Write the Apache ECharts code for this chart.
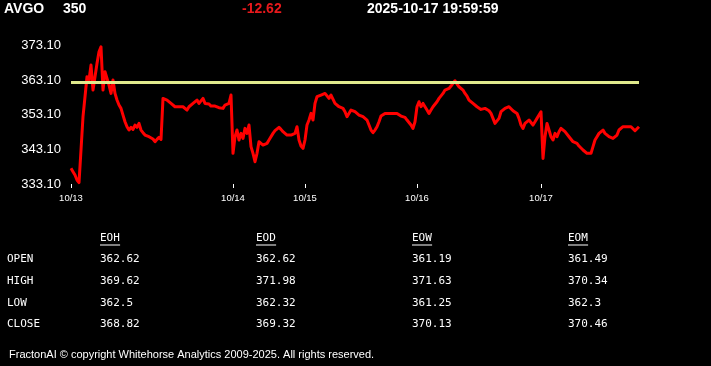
<!DOCTYPE html>
<html>
<head>
<meta charset="utf-8">
<script src="https://cdn.jsdelivr.net/npm/echarts@6/dist/echarts.min.js"></script>
<style>
html,body{margin:0;padding:0;background:#000;}
#chart{width:711px;height:366px;}
</style>
</head>
<body>
<div id="chart"></div>
<script>
// ---- header ----
const symbol = 'AVGO';
const lastPrice = '350';
const change = '-12.62';
const timestamp = '2025-10-17 19:59:59';

// ---- axis ----
const days = ['10/13', '10/14', '10/15', '10/16', '10/17'];
const yTicks = [333.1, 343.1, 353.1, 363.1, 373.1];
const levelValue = 362.62;

// ---- price series, one array per day ----
const day1 = [337.63,336.66,335.70,334.26,333.49,342.93,352.56,358.34,364.12,363.16,367.49,360.27,364.12,367.97,371.35,372.79,360.27,365.57,363.64,361.71,359.30,363.16,359.30,357.38,355.93,354.97,353.04,351.12,349.67,348.71,349.48,348.90,350.15,349.48,350.63,348.71,347.94,347.26,347.74,346.78,346.30,346.11,345.33,346.01,346.59,346.01,357.86,357.86,357.38,357.18,356.41,356.22,355.45,354.97,355.45,355.64,355.45,354.97,354.49,355.45,355.93,356.41,356.90,357.38,356.41,356.90,357.86,356.41,355.93,356.22,355.64,355.45,355.64,355.45,355.16,355.45,354.97,355.93,355.45,356.41,358.82];
const day2 = [341.96,346.78,348.71,345.82,347.74,346.30,349.19,347.74,350.15,343.89,341.96,339.55,341.96,345.33,345.82,344.37,343.89,344.85,345.82,346.30,347.74,348.51,348.90,349.48,348.90,348.23,348.71,347.26,347.74,347.26,347.55,347.74,349.67,345.82,344.08,343.41];
const day3 = [345.82,350.15,351.60,353.52,351.60,356.41,358.34,358.34,358.82,359.11,359.30,359.79,357.86,358.82,358.34,356.41,355.93,355.45,355.45,354.97,354.01,352.56,353.04,354.49,354.97,354.01,353.52,353.04,353.04,352.56,352.08,351.60,350.15,348.71,347.94,348.71,349.67,351.12,352.75,353.04,353.52,353.72,353.52,353.04,353.52,353.33,353.52,353.04,352.75,352.56,352.37,351.60,351.12,350.15,349.19,351.12];
const day4 = [355.45,356.90,355.45,356.41,356.41,354.49,353.52,354.49,355.45,355.93,356.90,357.86,358.34,359.30,360.27,360.46,360.75,361.42,362.20,362.97,362.01,361.23,360.75,360.27,359.30,358.53,357.38,356.90,356.41,355.93,355.45,354.97,354.68,354.97,354.97,354.97,354.29,353.52,352.08,350.63,350.15,352.08,354.01,354.49,354.97,354.49,355.45,354.97,354.29,354.01,353.52,352.08,350.15,349.19,350.63,351.12,351.60,351.12,350.15,351.12,352.08,353.04];
const day5 = [354.01,340.50,346.78,350.63,348.71,346.78,345.82,347.74,346.78,348.23,349.19,348.71,348.23,347.74,346.78,346.30,345.33,345.82,344.85,344.08,343.70,342.93,342.44,341.96,341.48,341.96,343.89,345.82,346.78,347.74,348.23,348.71,347.74,347.26,346.78,346.30,346.30,346.78,347.26,348.71,349.19,349.67,350.15,349.67,349.86,349.67,349.19,348.51,348.71,349.67];

// ---- table ----
const rowLabels = ['OPEN', 'HIGH', 'LOW', 'CLOSE'];
const colHeaders = ['EOH', 'EOD', 'EOW', 'EOM'];
const eoh = ['362.62', '369.62', '362.5', '368.82'];
const eod = ['362.62', '371.98', '362.32', '369.32'];
const eow = ['361.19', '371.63', '361.25', '370.13'];
const eom = ['361.49', '370.34', '362.3', '370.46'];
const footer = 'FractonAI \u00a9 copyright Whitehorse Analytics 2009-2025. All rights reserved.';

// ---- build category axis ----
const dayData = [day1, day2, day3, day4, day5];
const categories = [];
const values = [];
const dayStarts = [];
dayData.forEach((arr, d) => {
  dayStarts.push(categories.length);
  arr.forEach((v, i) => {
    categories.push(days[d] + '|' + i);
    values.push(v);
  });
});
const isStart = (idx) => dayStarts.indexOf(idx) >= 0;

// ---- graphics ----
const graphics = [];
const hdrFont = 'bold 14px "Liberation Sans", Arial, sans-serif';
graphics.push({type:'text', left:4, top:2, style:{text:symbol, font:hdrFont, fill:'#fff'}});
graphics.push({type:'text', left:63, top:2, style:{text:lastPrice, font:hdrFont, fill:'#fff'}});
graphics.push({type:'text', left:242, top:2, style:{text:change, font:hdrFont, fill:'#e8191c'}});
graphics.push({type:'text', left:367, top:2, style:{text:timestamp, font:hdrFont, fill:'#fff'}});

const monoFont = '11px "DejaVu Sans Mono", monospace';
const colX = [100, 256, 412, 568];
const rowY = [259.5, 281, 302.7, 324.3];
const headerY = 238.5;
const cols = [eoh, eod, eow, eom];
colHeaders.forEach((h, c) => {
  graphics.push({type:'text', x:colX[c], y:headerY, style:{text:h, font:monoFont, fill:'#fff', verticalAlign:'middle'}});
  graphics.push({type:'rect', shape:{x:colX[c], y:headerY + 6, width:h.length * 6.7, height:1}, style:{fill:'#fff'}});
  cols[c].forEach((v, r) => {
    graphics.push({type:'text', x:colX[c], y:rowY[r], style:{text:v, font:monoFont, fill:'#fff', verticalAlign:'middle'}});
  });
});
rowLabels.forEach((l, r) => {
  graphics.push({type:'text', x:7, y:rowY[r], style:{text:l, font:monoFont, fill:'#fff', verticalAlign:'middle'}});
});
graphics.push({type:'text', x:9, y:355, style:{text:footer, font:'11px "Liberation Sans", Arial, sans-serif', fill:'#fff', verticalAlign:'middle'}});

const chart = echarts.init(document.getElementById('chart'), null, {renderer:'canvas'});
chart.setOption({
  backgroundColor:'#000',
  animation:false,
  grid:{left:71, right:72, top:45.7, bottom:182, containLabel:false},
  xAxis:{
    type:'category',
    data:categories,
    boundaryGap:false,
    axisLine:{show:false},
    axisTick:{show:true, interval:(idx)=>isStart(idx), length:4, lineStyle:{color:'#fff', width:1}},
    axisLabel:{interval:(idx)=>isStart(idx), formatter:(v)=>v.split('|')[0], color:'#fff', fontSize:9.5, fontFamily:'"Liberation Sans", Arial, sans-serif', margin:9},
    splitLine:{show:false}
  },
  yAxis:{
    type:'value',
    min:yTicks[0],
    max:yTicks[yTicks.length-1],
    axisLine:{show:false},
    axisTick:{show:false},
    splitLine:{show:false},
    axisLabel:{customValues:yTicks, formatter:(v)=>Number(v).toFixed(2), color:'#fff', fontSize:13, fontFamily:'"Liberation Sans", Arial, sans-serif', margin:10}
  },
  series:[{
    type:'line',
    data:values,
    showSymbol:false,
    symbol:'none',
    lineStyle:{color:'#ff0000', width:3, join:'round'},
    markLine:{
      silent:true,
      symbol:['none','none'],
      label:{show:false},
      lineStyle:{color:'#e0e98c', width:3, type:'solid'},
      data:[{yAxis:levelValue}]
    }
  }],
  graphic:graphics
});
</script>
</body>
</html>
